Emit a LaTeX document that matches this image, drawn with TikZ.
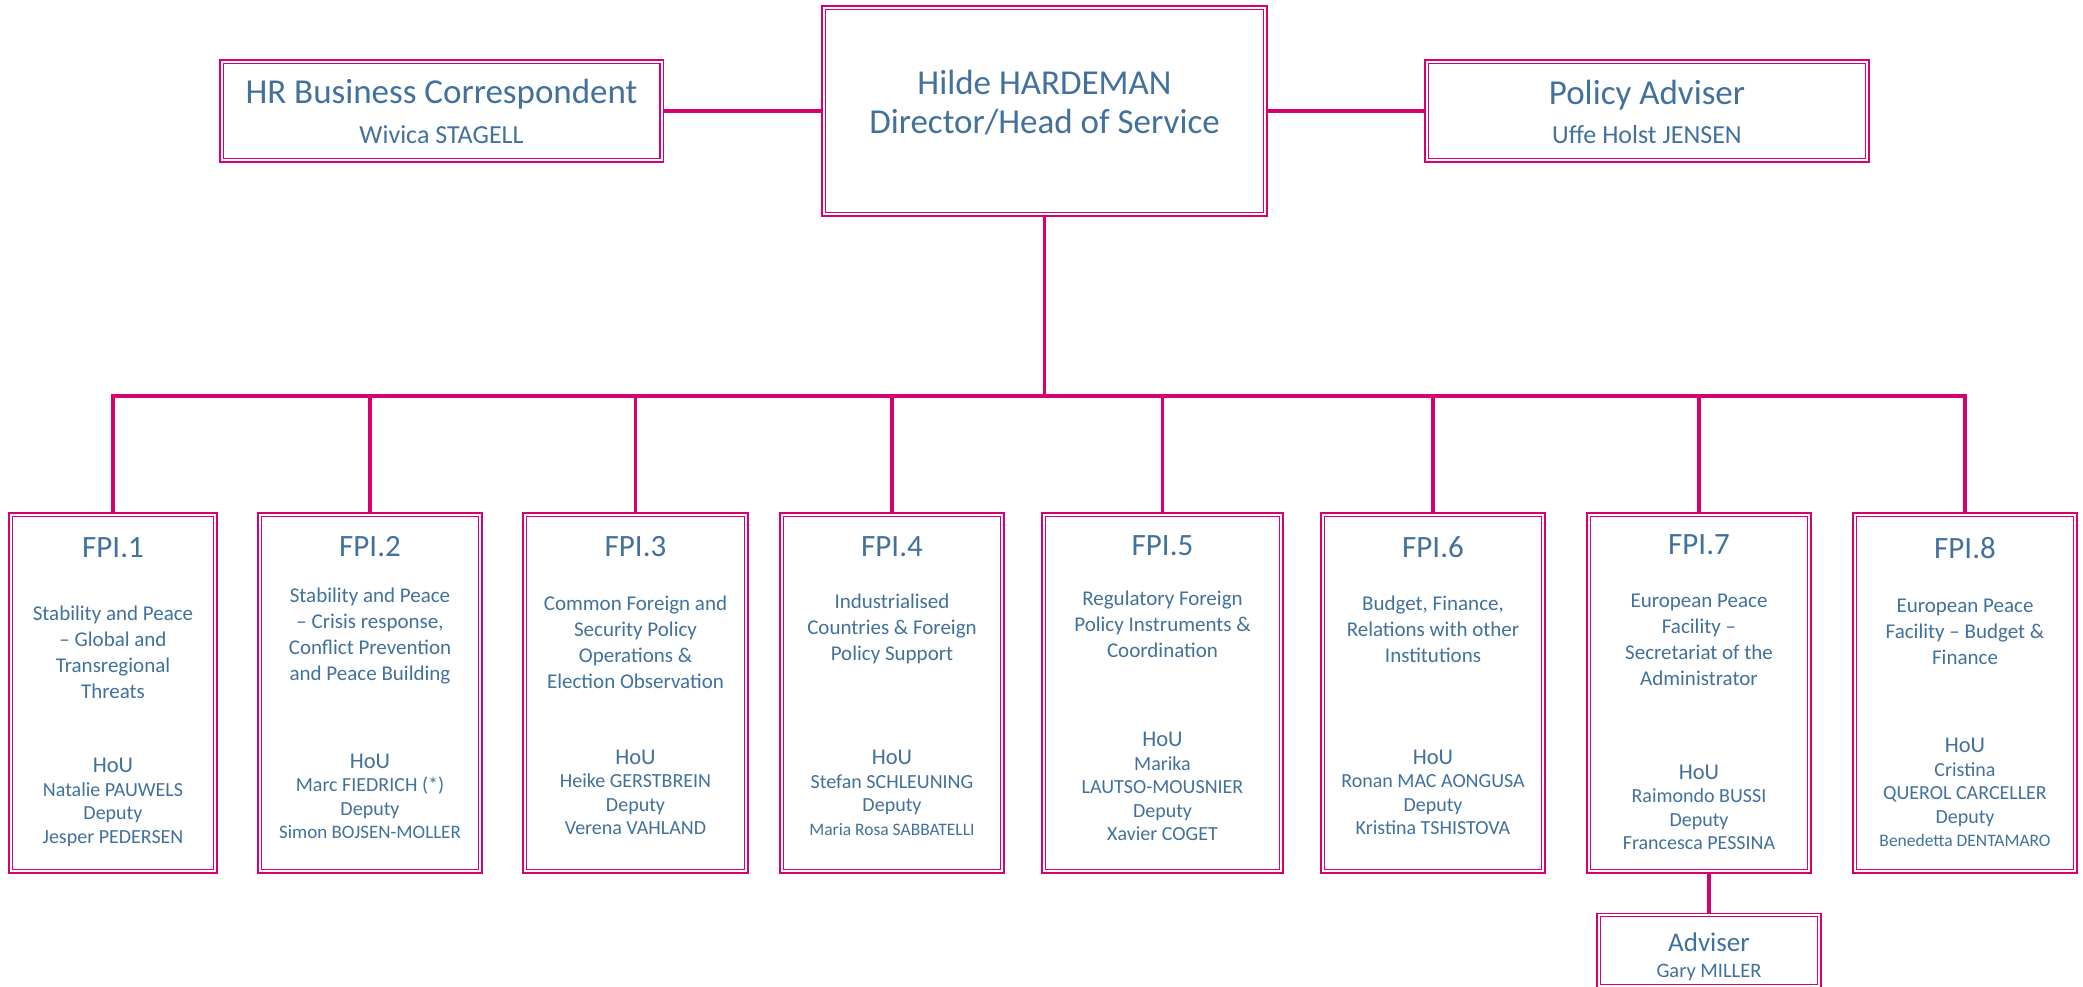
\documentclass[tikz,border=0pt]{standalone}
\usepackage{fontspec}
\setmainfont{Carlito}
\usetikzlibrary{backgrounds}
\pgfdeclarelayer{bottom}
\pgfsetlayers{bottom,background,main}
\definecolor{fpitext}{RGB}{65,113,156}
\definecolor{fpiline}{RGB}{214,0,110}
\newcommand\houword{{\fontsize{22.5}{23.5}\selectfont HoU}}
\newcommand\smallname[1]{{\fontsize{17.5}{23.5}\selectfont #1}}
\begin{document}
\begin{tikzpicture}[x=1pt,y=-1pt,
  box/.style={draw=fpiline, double=white, double distance=2pt, line width=1.3pt, rectangle, inner sep=0pt},
  conn/.style={draw=fpiline, line width=3.5pt},
  txt/.style={text=fpitext, inner sep=0pt, align=center},
  headtxt/.style={txt, font=\fontsize{35}{39}\selectfont},
  subtxt/.style={txt, font=\fontsize{26}{30}\selectfont},
  titletxt/.style={txt, font=\fontsize{31}{36}\selectfont},
  desctxt/.style={txt, font=\fontsize{21}{26}\selectfont},
  nametxt/.style={txt, font=\fontsize{20}{23.5}\selectfont},
  unitbox/.style={box, minimum height=356.7pt}
]
\useasboundingbox (0,0) rectangle (2083,986);
\begin{pgfonlayer}{bottom}
\fill[white] (0,0) rectangle (2083,986);
\end{pgfonlayer}

% top row
\node[box, minimum width=440pt, minimum height=98.7pt] (hr) at (441.5,111) {};
\node[headtxt] (hrt) at (441.5,94) {HR Business Correspondent};
\node[subtxt] (hrn) at (441.5,135) {Wivica STAGELL};

\node[box, minimum width=441.7pt, minimum height=206.7pt] (dir) at (1044.5,111) {};
\node[headtxt] (dirt) at (1044.5,102.5) {Hilde HARDEMAN\\Director/Head of Service};

\node[box, minimum width=440.7pt, minimum height=98.7pt] (pol) at (1647,111) {};
\node[headtxt] (polt) at (1647,95) {Policy Adviser};
\node[subtxt] (poln) at (1647,135) {Uffe Holst JENSEN};

\coordinate (bus) at (0,396);

% units
\node[unitbox, minimum width=204.7pt] (fpi1) at (113,693) {};
\node[unitbox, minimum width=220.7pt] (fpi2) at (370,693) {};
\node[unitbox, minimum width=221.7pt] (fpi3) at (635.5,693) {};
\node[unitbox, minimum width=220.7pt] (fpi4) at (892,693) {};
\node[unitbox, minimum width=237.7pt] (fpi5) at (1162.5,693) {};
\node[unitbox, minimum width=220.7pt] (fpi6) at (1433,693) {};
\node[unitbox, minimum width=220.7pt] (fpi7) at (1699,693) {};
\node[unitbox, minimum width=220.7pt] (fpi8) at (1965,693) {};
\node[box, minimum width=220.7pt, minimum height=70.7pt] (adv) at (1709,950.5) {};

% unit texts
\node[titletxt] (t1) at (113,548) {FPI.1};
\node[desctxt] (d1) at (113,652) {Stability and Peace\\– Global and\\Transregional\\Threats};
\node[nametxt] (n1) at (113,802.5) {\houword\\Natalie PAUWELS\\Deputy\\Jesper PEDERSEN};

\node[titletxt] (t2) at (370,547) {FPI.2};
\node[desctxt] (d2) at (370,636.5) {Stability and Peace\\– Crisis response,\\Conflict Prevention\\and Peace Building};
\node[nametxt] (n2) at (370,796.5) {\houword\\Marc FIEDRICH (*)\\Deputy\\{\fontsize{19}{23.5}\selectfont Simon BOJSEN-MOLLER}};

\node[titletxt] (t3) at (635.5,547) {FPI.3};
\node[desctxt] (d3) at (635.5,642) {Common Foreign and\\Security Policy\\Operations \&\\Election Observation};
\node[nametxt] (n3) at (635.5,792.5) {\houword\\Heike GERSTBREIN\\Deputy\\Verena VAHLAND};

\node[titletxt] (t4) at (892,547) {FPI.4};
\node[desctxt] (d4) at (892,629) {Industrialised\\Countries \& Foreign\\Policy Support};
\node[nametxt] (n4) at (892,793) {\houword\\Stefan SCHLEUNING\\Deputy\\\smallname{Maria Rosa SABBATELLI}};

\node[titletxt] (t5) at (1162.5,546) {FPI.5};
\node[desctxt] (d5) at (1162.5,624.5) {Regulatory Foreign\\Policy Instruments \&\\Coordination};
\node[nametxt] (n5) at (1162.5,786.5) {\houword\\Marika\\LAUTSO-MOUSNIER\\Deputy\\Xavier COGET};

\node[titletxt] (t6) at (1433,547) {FPI.6};
\node[desctxt] (d6) at (1433,629) {Budget, Finance,\\Relations with other\\Institutions};
\node[nametxt] (n6) at (1433,792.5) {\houword\\Ronan MAC AONGUSA\\Deputy\\Kristina TSHISTOVA};

\node[titletxt] (t7) at (1699,545) {FPI.7};
\node[desctxt] (d7) at (1699,640) {European Peace\\Facility –\\Secretariat of the\\Administrator};
\node[nametxt] (n7) at (1699,807.5) {\houword\\Raimondo BUSSI\\Deputy\\Francesca PESSINA};

\node[titletxt] (t8) at (1965,548) {FPI.8};
\node[desctxt] (d8) at (1965,632) {European Peace\\Facility – Budget \&\\Finance};
\node[nametxt] (n8) at (1965,792.5) {\houword\\Cristina\\QUEROL CARCELLER\\Deputy\\\smallname{Benedetta DENTAMARO}};

\node[txt, font=\fontsize{27}{30}\selectfont] (advt) at (1709,942) {Adviser};
\node[txt, font=\fontsize{20.5}{24}\selectfont] (advn) at (1709,972) {Gary MILLER};

% connectors
\begin{pgfonlayer}{background}
\draw[conn] (hr.east) -- (dir.west);
\draw[conn] (dir.east) -- (pol.west);
\draw[conn] (dir.south) -- (dir.south |- bus);
\draw[conn] (fpi1.north) -- (fpi1.north |- bus) -- (fpi8.north |- bus) -- (fpi8.north);
\foreach \u in {fpi2,fpi3,fpi4,fpi5,fpi6,fpi7}{
  \draw[conn] (\u.north |- bus) -- (\u.north);
}
\draw[conn] (adv.north |- fpi7.south) -- (adv.north);
\end{pgfonlayer}
\end{tikzpicture}
\end{document}
